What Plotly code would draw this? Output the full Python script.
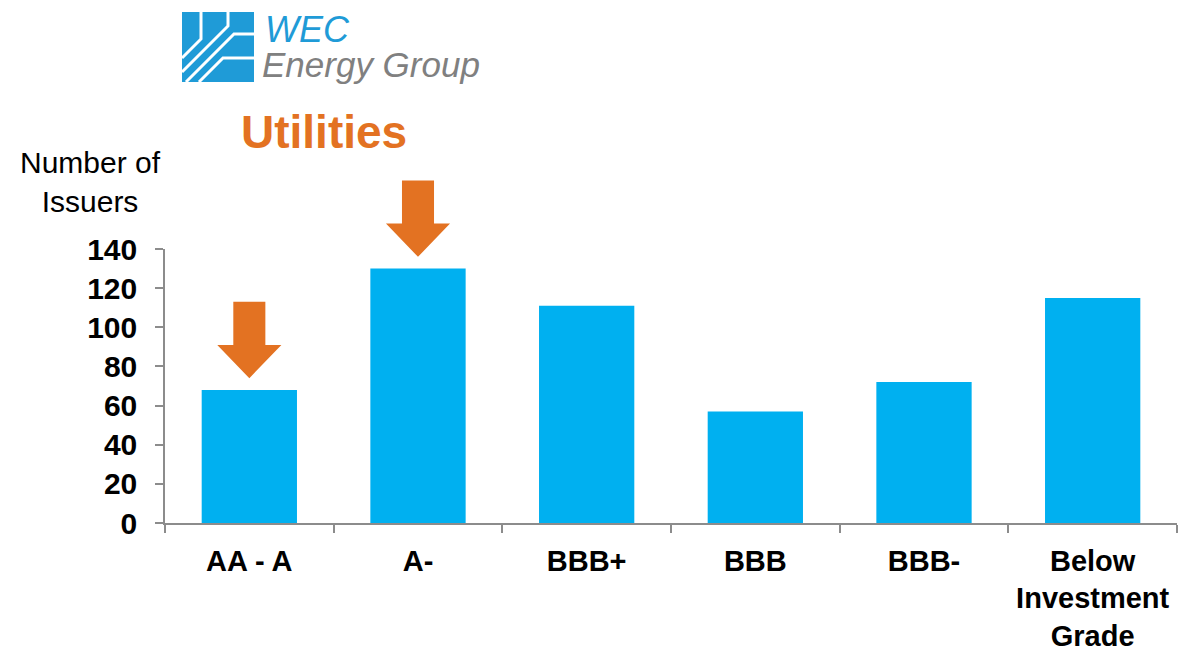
import plotly.graph_objects as go

categories = ["AA - A", "A-", "BBB+", "BBB", "BBB-", "Below<br>Investment<br>Grade"]
issuers = [68, 130, 111, 57, 72, 115]
y_ticks = [0, 20, 40, 60, 80, 100, 120, 140]
highlighted = [0, 1]  # categories marked with an arrow

BAR_COLOR = "#00B0F0"
ORANGE = "#E37222"
LOGO_BLUE = "#1F9BD7"
AXIS_COLOR = "#8C8C8C"
FONT = "Arial, Liberation Sans, sans-serif"

W, H = 1179, 650
ML, MR, MT, MB = 165, 2, 249, 127
PW = W - ML - MR
PH = H - MT - MB
YMAX = 140


def px(x):
    return (x - ML) / PW


def py(y):
    return (H - MB - y) / PH


fig = go.Figure()
fig.add_trace(go.Bar(
    x=categories, y=issuers, marker=dict(color=BAR_COLOR, line=dict(width=0)),
    width=0.565, hoverinfo="x+y",
))

shapes = []
# arrows above highlighted bars, derived from data values
n = len(categories)
for i in highlighted:
    v = issuers[i]
    tip = (v + 6) / YMAX
    base = (v + 23) / YMAX
    top = (v + 45) / YMAX
    cx = (i + 0.5) / n
    sw = 0.095 / n
    hw = 0.19 / n
    path = (f"M {cx - sw},{top} L {cx + sw},{top} L {cx + sw},{base} L {cx + hw},{base} "
            f"L {cx},{tip} L {cx - hw},{base} L {cx - sw},{base} Z")
    shapes.append(dict(type="path", path=path, xref="paper", yref="paper",
                       fillcolor=ORANGE, line=dict(width=0), layer="above"))

# logo mark
shapes.append(dict(type="rect", xref="paper", yref="paper",
                   x0=px(182), x1=px(254), y0=py(82), y1=py(12),
                   fillcolor=LOGO_BLUE, line=dict(width=0)))
stripes = [
    [(201, 12), (201, 39), (182, 58)],
    [(228, 12), (228, 26), (182, 72)],
    [(254, 34), (234, 34), (186, 82)],
    [(254, 58), (223, 58), (199, 82)],
]
for pts in stripes:
    path = "M " + " L ".join(f"{px(a)},{py(b)}" for a, b in pts)
    shapes.append(dict(type="path", path=path, xref="paper", yref="paper",
                       line=dict(color="white", width=3)))

annotations = [
    dict(text="<i>WEC</i>", x=px(263), y=py(29), xanchor="left", yanchor="middle",
         font=dict(family=FONT, size=36, color=LOGO_BLUE)),
    dict(text="<i>Energy Group</i>", x=px(260), y=py(64), xanchor="left", yanchor="middle",
         font=dict(family=FONT, size=35, color="#808080")),
    dict(text="<b>Utilities</b>", x=px(324), y=py(132), xanchor="center", yanchor="middle",
         font=dict(family=FONT, size=46, color=ORANGE)),
    dict(text="Number of<br>Issuers", x=px(90), y=py(182), xanchor="center", yanchor="middle",
         align="center", font=dict(family=FONT, size=30, color="black")),
]
for a in annotations:
    a.update(xref="paper", yref="paper", showarrow=False)

fig.update_layout(
    width=W, height=H,
    margin=dict(l=ML, r=MR, t=MT, b=MB, autoexpand=False),
    paper_bgcolor="white", plot_bgcolor="white",
    showlegend=False,
    shapes=shapes, annotations=annotations,
    bargap=0.435,
)
fig.update_xaxes(
    showline=True, linecolor=AXIS_COLOR, linewidth=1.5,
    ticks="outside", tickson="boundaries", ticklen=8, tickcolor=AXIS_COLOR, tickwidth=1.5,
    tickfont=dict(family=FONT, size=29, color="black", weight="bold"),
    showgrid=False, zeroline=False, ticklabelstandoff=11,
)
fig.update_yaxes(
    range=[0, YMAX], tickvals=y_ticks, ticktext=[str(t) for t in y_ticks],
    showline=True, linecolor=AXIS_COLOR, linewidth=1.5,
    ticks="outside", ticklen=8, tickcolor=AXIS_COLOR, tickwidth=1.5,
    tickfont=dict(family=FONT, size=30, color="black", weight="bold"),
    showgrid=False, zeroline=False, ticklabelstandoff=12,
)

fig.write_html(
    "out.html",
    config={"displayModeBar": False},
    post_script="document.body.style.margin='0';document.body.style.overflow='hidden';",
)
